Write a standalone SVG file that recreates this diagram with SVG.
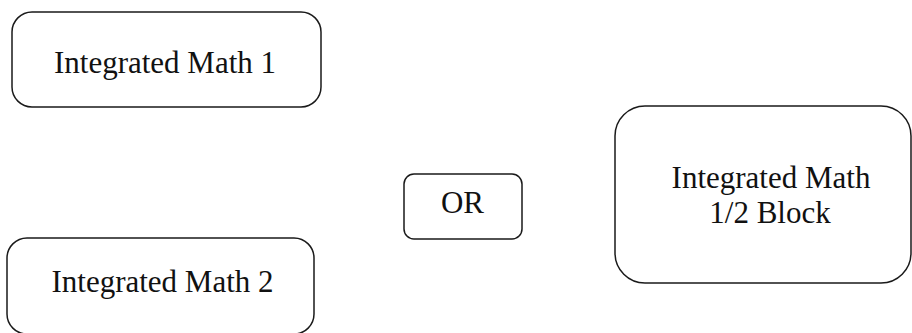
<svg xmlns="http://www.w3.org/2000/svg" width="912" height="333" viewBox="0 0 912 333">
<style>
.box{fill:#ffffff;stroke:#1a1a1a;stroke-width:1.5}
.t{font-family:"Liberation Serif","Times New Roman",serif;font-size:31px;fill:#111111;text-anchor:middle}
</style>
<rect width="912" height="333" fill="#ffffff"/>
<g id="connectors"></g>
<g id="node-math1">
<rect class="box" x="12" y="12" width="309" height="95" rx="20" ry="20"/>
<text class="t" x="165" y="73">Integrated Math 1</text>
</g>
<g id="node-math2">
<rect class="box" x="7" y="238" width="307" height="96" rx="20" ry="20"/>
<text class="t" x="162.5" y="292">Integrated Math 2</text>
</g>
<g id="node-or">
<rect class="box" x="404" y="174" width="118" height="65" rx="10" ry="10"/>
<text class="t" x="462.5" y="213">OR</text>
</g>
<g id="node-block">
<rect class="box" x="615" y="106" width="296" height="177" rx="30" ry="30"/>
<text class="t" x="771" y="188">Integrated Math</text>
<text class="t" x="770" y="223">1/2 Block</text>
</g>
</svg>
